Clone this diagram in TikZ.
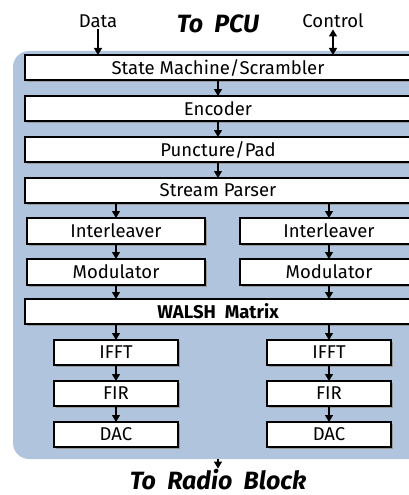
\documentclass[tikz,border=0pt]{standalone}
\usepackage{fontspec}
\setmainfont{Fira Sans}
\usetikzlibrary{arrows.meta,positioning,shadows}
\definecolor{bgblue}{RGB}{176,196,222}

\begin{document}
\begin{tikzpicture}[x=1pt, y=-1pt, >={Triangle[length=7pt,width=8pt]},
    blk/.style={rectangle, draw, line width=1.4pt, fill=white, minimum height=25pt,
        inner sep=1pt, outer sep=0pt, font=\fontsize{18.5}{19}\selectfont,
        drop shadow={shadow xshift=1.6pt, shadow yshift=-1.6pt, fill=black!40, opacity=1}},
    wide/.style={minimum width=386pt},
    half/.style={minimum width=178pt},
    small/.style={minimum width=124pt},
    lbl/.style={inner sep=1pt, font=\fontsize{18.5}{19}\selectfont},
    flow/.style={->, line width=1.3pt},
    title/.style={inner sep=1pt, font=\fontsize{25}{25}\selectfont\bfseries\itshape}]

    % Frame
    \useasboundingbox (0,0) rectangle (409,495);
    \clip (0,0) rectangle (409,495);
    \fill[bgblue, rounded corners=16pt] (13,51) rectangle (440,459);

    % Column centres
    \coordinate (lc) at (116,0);
    \coordinate (rc) at (329,0);

    % Common chain
    \node[blk, wide] (sm) at (218,67.5) {State Machine/Scrambler};
    \node[blk, wide, below=16pt of sm] (enc) {Encoder};
    \node[blk, wide, below=16pt of enc] (pp) {Puncture/Pad};
    \node[blk, wide, below=16pt of pp] (sp) {Stream Parser};

    % Two branches
    \node[blk, half, minimum height=26pt, anchor=north, yshift=-15pt] (il1) at (sp.south -| lc) {Interleaver};
    \node[blk, half, minimum height=26pt, anchor=north, yshift=-15pt] (il2) at (sp.south -| rc) {Interleaver};
    \node[blk, half, minimum height=26pt, below=15pt of il1] (mod1) {Modulator};
    \node[blk, half, minimum height=26pt, below=15pt of il2] (mod2) {Modulator};

    \node[blk, wide, anchor=north, yshift=-14pt] (walsh) at (mod1.south -| sm) {\bfseries WALSH\ \ Matrix};

    \node[blk, small, anchor=north, yshift=-16pt] (ifft1) at (walsh.south -| lc) {IFFT};
    \node[blk, small, anchor=north, yshift=-16pt] (ifft2) at (walsh.south -| rc) {IFFT};
    \node[blk, small, below=16pt of ifft1] (fir1) {FIR};
    \node[blk, small, below=16pt of ifft2] (fir2) {FIR};
    \node[blk, small, below=16pt of fir1] (dac1) {DAC};
    \node[blk, small, below=16pt of fir2] (dac2) {DAC};

    % Outside labels
    \node[lbl, anchor=base] (data) at (98,28) {Data};
    \node[lbl, anchor=base] (ctrl) at (333,28) {Control};
    \node[title, anchor=base] (pcu) at (218,33) {To\ \ PCU};
    \node[title, anchor=base] (radio) at (218,489) {To\ \ Radio\ \ Block};
    \coordinate (bgbot) at (218,459);

    % Arrows
    \draw[flow] (data.south) -- (data.south |- sm.north);
    \draw[<->, line width=1.3pt] (ctrl.south) -- (ctrl.south |- sm.north);
    \draw[flow] (sm) -- (enc);
    \draw[flow] (enc) -- (pp);
    \draw[flow] (pp) -- (sp);
    \draw[flow] (sp.south -| il1) -- (il1);
    \draw[flow] (sp.south -| il2) -- (il2);
    \draw[flow] (il1) -- (mod1);
    \draw[flow] (il2) -- (mod2);
    \draw[flow] (mod1) -- (walsh.north -| mod1);
    \draw[flow] (mod2) -- (walsh.north -| mod2);
    \draw[flow] (walsh.south -| ifft1) -- (ifft1);
    \draw[flow] (walsh.south -| ifft2) -- (ifft2);
    \draw[flow] (ifft1) -- (fir1);
    \draw[flow] (ifft2) -- (fir2);
    \draw[flow] (fir1) -- (dac1);
    \draw[flow] (fir2) -- (dac2);
    \draw[flow] (bgbot) -- ([yshift=-1pt]radio.north -| bgbot);
\end{tikzpicture}
\end{document}
